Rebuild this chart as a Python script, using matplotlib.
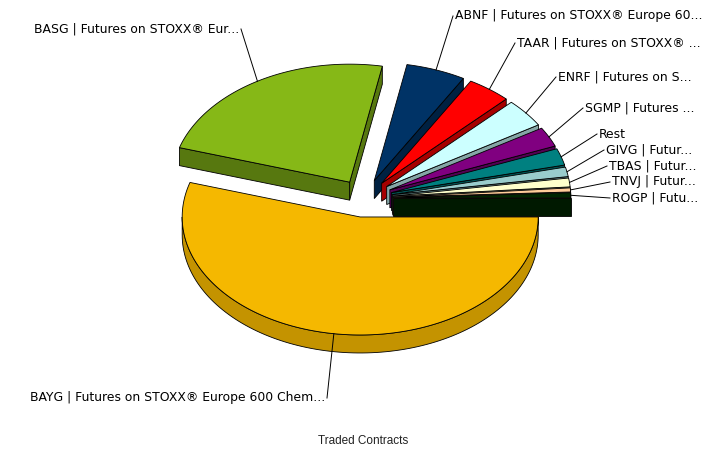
import numpy as np
import matplotlib.pyplot as plt
from matplotlib.patches import Polygon
from matplotlib.colors import to_rgb

# %%

labels = ["BAYG | Futures on STOXX® Europe 600 Chem...",
          "BASG | Futures on STOXX® Eur...",
          "ABNF | Futures on STOXX® Europe 60...",
          "TAAR | Futures on STOXX® ...",
          "ENRF | Futures on S...",
          "SGMP | Futures ...",
          "Rest",
          "GIVG | Futur...",
          "TBAS | Futur...",
          "TNVJ | Futur...",
          "ROGP | Futu..."]
values = [54.7, 23.2, 5.4, 4.0, 3.9, 2.7, 2.3, 1.3, 1.2, 0.55, 0.7]
colors = ["#F5B800", "#86B817", "#003366", "#FF0000", "#CCFFFF", "#800080",
          "#008080", "#99CCCC", "#FFFFCC", "#FFCC99", "#002600"]

# label anchor (end of leader line) and alignment
label_pos = [(327, 398, 'right'), (241, 29, 'right'), (453, 16, 'left'),
             (515, 43, 'left'), (556, 77, 'left'), (583, 108, 'left'),
             (597, 134, 'left'), (604, 150, 'left'), (607, 166, 'left'),
             (610, 182, 'left'), (610, 198, 'left')]

# pie geometry (pixels)
cx, cy = 364.4, 198.3
rx, ry = 178, 118
depth = 18
explode = 0.16


def shade(c, f):
    r, g, b = to_rgb(c)
    return (r * f, g * f, b * f)


# %%

fig = plt.figure(figsize=(7.23, 4.5), dpi=100)
ax = fig.add_axes([0, 0, 1, 1])
ax.set_xlim(0, 723)
ax.set_ylim(450, 0)
ax.axis('off')

vals = np.array(values) / np.sum(values) * 360
cum = np.concatenate([[0], np.cumsum(vals)])

slices = []
for i in range(len(vals)):
    t1 = np.radians(-cum[i + 1])
    t2 = np.radians(-cum[i])
    tm = (t1 + t2) / 2
    px = cx + explode * rx * np.cos(tm)
    py = cy - explode * ry * np.sin(tm)
    slices.append((i, t1, t2, tm, px, py))

# back to front
order = sorted(slices, key=lambda s: -np.sin(s[3]))

lw = 0.6
for i, t1, t2, tm, px, py in order:
    col = colors[i]
    # radial faces
    for t, vis in ((t1, np.cos(t1) > 0), (t2, np.cos(t2) < 0)):
        if vis:
            ex = px + rx * np.cos(t)
            ey = py - ry * np.sin(t)
            face = [(px, py), (ex, ey), (ex, ey + depth), (px, py + depth)]
            ax.add_patch(Polygon(face, closed=True, fc=shade(col, 0.65),
                                 ec='black', lw=lw))
    # outer wall (front half only)
    a = max(t1, -np.pi) if t1 < 0 else t1
    b = min(t2, 0)
    if t1 < 0 and b > a:
        tt = np.linspace(a, b, 120)
        top = np.column_stack([px + rx * np.cos(tt), py - ry * np.sin(tt)])
        bot = top[::-1] + [0, depth]
        ax.add_patch(Polygon(np.vstack([top, bot]), closed=True,
                             fc=shade(col, 0.8), ec='black', lw=lw))
    # top surface
    tt = np.linspace(t1, t2, 200)
    arc = np.column_stack([px + rx * np.cos(tt), py - ry * np.sin(tt)])
    pts = np.vstack([[px, py], arc])
    ax.add_patch(Polygon(pts, closed=True, fc=col, ec='black', lw=lw))

# labels with leader lines
for i, t1, t2, tm, px, py in slices:
    sx = px + rx * np.cos(tm)
    sy = py - ry * np.sin(tm)
    lx, ly, ha = label_pos[i]
    ax.plot([sx, lx], [sy, ly], color='black', lw=0.7)
    tx = lx + 2 if ha == 'left' else lx - 2
    ax.text(tx, ly, labels[i], ha=ha, va='center', fontsize=8.9,
            family='DejaVu Sans', color='black')

ax.text(363, 441, "Traded Contracts", ha='center', va='center', fontsize=8.5,
        family='Liberation Sans', color='#222222')

plt.savefig("out.png", dpi=100)
